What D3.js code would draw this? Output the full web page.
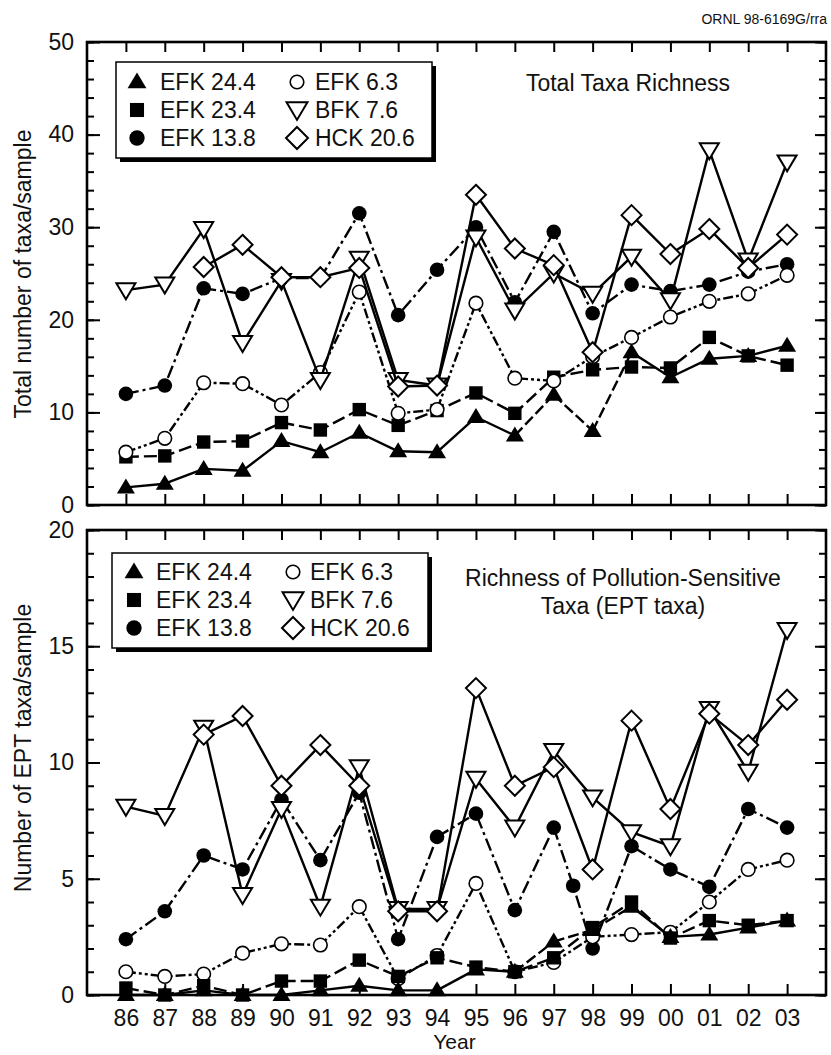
<!DOCTYPE html>
<html><head><meta charset="utf-8">
<script src="https://cdn.jsdelivr.net/npm/d3@7"></script>
<style>body{margin:0;background:#fff}svg{display:block}</style>
</head><body>
<svg id="c" width="831" height="1055"></svg>
<script>
// ---------- DATA ----------
const years = [86,87,88,89,90,91,92,93,94,95,96,97,98,99,100,101,102,103];
const yearLabels = ["86","87","88","89","90","91","92","93","94","95","96","97","98","99","00","01","02","03"];
const seriesNames = ["EFK 24.4","EFK 23.4","EFK 13.8","EFK 6.3","BFK 7.6","HCK 20.6"];

// Total taxa richness (top panel)
const totalEFK244 = [1.9,2.3,3.9,3.7,6.9,5.7,7.8,5.8,5.7,9.5,7.5,11.9,8.0,16.5,13.8,15.8,16.1,17.2];
const totalEFK234 = [5.2,5.3,6.8,6.9,8.9,8.1,10.3,8.6,10.2,12.1,9.9,13.8,14.6,14.9,14.8,18.1,16.1,15.1];
const totalEFK138 = [12.0,12.9,23.4,22.8,24.5,24.5,31.5,20.5,25.4,30.0,21.9,29.5,20.7,23.8,23.1,23.8,25.2,26.0];
const totalEFK63  = [5.7,7.2,13.2,13.1,10.8,14.3,23.0,9.9,10.3,21.8,13.7,13.4,16.0,18.1,20.3,22.0,22.8,24.8];
const totalBFK76  = [23.2,23.8,29.8,17.5,24.2,13.5,26.6,13.5,12.9,28.9,21.0,25.0,22.8,26.8,22.1,38.3,26.4,37.0];
const totalHCK206 = [null,null,25.7,28.1,24.6,24.6,25.6,12.8,12.9,33.5,27.7,25.9,16.5,31.3,27.1,29.8,25.6,29.2];

// EPT taxa richness (bottom panel)
const eptEFK244 = [0.0,0.0,0.2,0.0,0.0,0.2,0.4,0.2,0.2,1.1,1.0,2.3,2.8,3.8,2.5,2.6,2.9,3.2];
const eptEFK234 = [0.3,0.0,0.4,0.0,0.6,0.6,1.5,0.8,1.6,1.2,1.0,1.6,2.9,4.0,2.45,3.2,3.0,3.2];
const eptEFK138 = [2.4,3.6,6.0,5.4,8.4,5.8,8.7,2.4,6.8,7.8,3.65,7.2,2.0,6.4,5.4,4.65,8.0,7.2];
const eptEFK138ExtraYear  = [97.5];
const eptEFK138ExtraValue = [4.7];
const eptEFK63  = [1.0,0.8,0.9,1.8,2.2,2.15,3.8,0.7,1.7,4.8,1.0,1.4,2.5,2.6,2.7,4.0,5.4,5.8];
const eptBFK76  = [8.1,7.7,11.5,4.3,8.0,3.8,9.8,3.7,3.7,9.3,7.2,10.5,8.5,7.0,6.4,12.3,9.6,15.7];
const eptHCK206 = [null,null,11.2,12.0,9.0,10.75,9.0,3.6,3.6,13.2,9.0,9.8,5.4,11.8,8.0,12.1,10.75,12.7];

// segments of EFK 24.4 drawn dashed (start year of segment)
const efk244DashedFrom = [96,97,98];

// ---------- LAYOUT ----------
const FONT = "'Liberation Sans', Arial, Helvetica, sans-serif";
const X0 = 87, X1 = 826;
const svg = d3.select("#c");
svg.append("rect").attr("width",831).attr("height",1055).attr("fill","#fff");

const x = d3.scaleLinear().domain([85,104]).range([X0,X1]);

const styles = {
  "EFK 24.4": {marker:"tri",   dash:null},
  "EFK 23.4": {marker:"sq",    dash:"13,5"},
  "EFK 13.8": {marker:"dot",   dash:"13,4,3,4"},
  "EFK 6.3":  {marker:"circ",  dash:"10,3,3,3,3,3"},
  "BFK 7.6":  {marker:"dtri",  dash:null},
  "HCK 20.6": {marker:"dia",   dash:null}
};

function marker(g, type, cx, cy, s) {
  s = s || 1;
  if (type === "dot") {
    g.append("circle").attr("cx",cx).attr("cy",cy).attr("r",7.3*s).attr("fill","#000");
  } else if (type === "circ") {
    g.append("circle").attr("cx",cx).attr("cy",cy).attr("r",6.8*s).attr("fill","#fff").attr("stroke","#000").attr("stroke-width",1.6);
  } else if (type === "sq") {
    const h = 6.7*s;
    g.append("rect").attr("x",cx-h).attr("y",cy-h).attr("width",2*h).attr("height",2*h).attr("fill","#000");
  } else if (type === "tri") {
    g.append("path").attr("d",`M${cx},${cy-9*s}L${cx+9*s},${cy+6*s}L${cx-9*s},${cy+6*s}Z`).attr("fill","#000");
  } else if (type === "dtri") {
    g.append("path").attr("d",`M${cx-9.5*s},${cy-7*s}L${cx+9.5*s},${cy-7*s}L${cx},${cy+9*s}Z`)
      .attr("fill","#fff").attr("stroke","#000").attr("stroke-width",2).attr("stroke-linejoin","miter");
  } else if (type === "dia") {
    const h = 10*s;
    g.append("path").attr("d",`M${cx},${cy-h}L${cx+h},${cy}L${cx},${cy+h}L${cx-h},${cy}Z`)
      .attr("fill","#fff").attr("stroke","#000").attr("stroke-width",2);
  }
}

function panel(cfg) {
  const y = d3.scaleLinear().domain(cfg.domain).range([cfg.y1, cfg.y0]);
  const g = svg.append("g");

  const styleAxis = sel => {
    sel.select(".domain").remove();
    sel.selectAll(".tick line").attr("stroke","#000").attr("stroke-width",2);
    sel.selectAll("text").attr("font-family",FONT).attr("font-size",23).attr("fill","#111");
  };
  g.append("g").attr("transform",`translate(${X0},0)`)
    .call(d3.axisLeft(y).tickValues(d3.range(cfg.domain[0],cfg.domain[1]+0.001,cfg.minor)).tickSize(-7).tickFormat("")).call(styleAxis);
  g.append("g").attr("transform",`translate(${X0},0)`)
    .call(d3.axisLeft(y).tickValues(d3.range(cfg.domain[0],cfg.domain[1]+0.001,cfg.major)).tickSize(-13).tickPadding(13).tickFormat(d3.format("d"))).call(styleAxis);
  g.append("g").attr("transform",`translate(${X1},0)`)
    .call(d3.axisRight(y).tickValues(d3.range(cfg.domain[0],cfg.domain[1]+0.001,cfg.minor)).tickSize(-7).tickFormat("")).call(styleAxis);
  g.append("g").attr("transform",`translate(${X1},0)`)
    .call(d3.axisRight(y).tickValues(d3.range(cfg.domain[0],cfg.domain[1]+0.001,cfg.major)).tickSize(-11).tickFormat("")).call(styleAxis);
  g.append("g").attr("transform",`translate(0,${cfg.y0})`)
    .call(d3.axisTop(x).tickValues(years).tickSize(-10).tickFormat("")).call(styleAxis);
  g.append("g").attr("transform",`translate(0,${cfg.y1})`)
    .call(d3.axisBottom(x).tickValues(years).tickSize(-11).tickPadding(15)
      .tickFormat(cfg.labels ? ((d,i)=>yearLabels[i]) : "")).call(styleAxis);

  const plot = g.append("g");
  cfg.order.forEach(name => {
    const st = styles[name];
    let pts = years.map((yr,i)=>({yr, v: cfg.data[name][i]}));
    if (cfg.extra && cfg.extra[name]) {
      cfg.extra[name].years.forEach((yr,i)=>pts.push({yr, v: cfg.extra[name].values[i]}));
      pts.sort((a,b)=>a.yr-b.yr);
    }
    const sg = plot.append("g");
    const line = d3.line().defined(d=>d.v!=null).x(d=>x(d.yr)).y(d=>y(d.v));
    if (name === "EFK 24.4") {
      for (let i=0;i<pts.length-1;i++) {
        if (pts[i].v==null || pts[i+1].v==null) continue;
        sg.append("path").attr("d",line([pts[i],pts[i+1]])).attr("fill","none")
          .attr("stroke","#000").attr("stroke-width",2.4)
          .attr("stroke-dasharray", efk244DashedFrom.includes(pts[i].yr) ? "11,4" : null);
      }
    } else {
      sg.append("path").attr("d",line(pts)).attr("fill","none").attr("stroke","#000")
        .attr("stroke-width",2.4).attr("stroke-dasharray",st.dash);
    }
    pts.filter(d=>d.v!=null).forEach(d=>marker(sg, st.marker, x(d.yr), y(d.v)));
  });

  g.append("rect").attr("x",X0).attr("y",cfg.y0).attr("width",X1-X0).attr("height",cfg.y1-cfg.y0)
    .attr("fill","none").attr("stroke","#000").attr("stroke-width",2.6);

  const L = cfg.legend;
  g.append("rect").attr("x",L.x+4).attr("y",L.y+4).attr("width",L.w).attr("height",L.h).attr("fill","#000");
  g.append("rect").attr("x",L.x).attr("y",L.y).attr("width",L.w).attr("height",L.h).attr("fill","#fff").attr("stroke","#000").attr("stroke-width",1.5);
  seriesNames.forEach((name,i)=>{
    const col = Math.floor(i/3), row = i%3;
    const cy = L.rows[row];
    const sx = L.symX[col], tx = L.textX[col];
    const m = styles[name].marker;
    const sc = (m==="dtri"||m==="dia") ? 1.1 : (m==="circ" ? 1.0 : 1.05);
    marker(g, m, sx, cy, sc);
    g.append("text").attr("x",tx).attr("y",cy+8.3).text(name)
      .attr("font-family",FONT).attr("font-size",23).attr("fill","#111");
  });

  cfg.title.forEach((t,i)=>{
    g.append("text").attr("x",cfg.titleX).attr("y",cfg.titleY + i*28).attr("text-anchor","middle").text(t)
      .attr("font-family",FONT).attr("font-size",23).attr("fill","#111");
  });

  g.append("text").attr("transform",`translate(31,${cfg.ylabelY}) rotate(-90)`).attr("text-anchor","middle")
    .text(cfg.ylabel).attr("font-family",FONT).attr("font-size",23).attr("fill","#111");
}

panel({
  y0: 42, y1: 505, domain: [0,50], major: 10, minor: 2, labels: false,
  data: {"EFK 24.4":totalEFK244,"EFK 23.4":totalEFK234,"EFK 13.8":totalEFK138,"EFK 6.3":totalEFK63,"BFK 7.6":totalBFK76,"HCK 20.6":totalHCK206},
  order: ["EFK 13.8","EFK 24.4","EFK 23.4","EFK 6.3","BFK 7.6","HCK 20.6"],
  legend: {x:116, y:62, w:316, h:96, rows:[82,110,138], symX:[137,297], textX:[160,315]},
  title: ["Total Taxa Richness"], titleX: 628, titleY: 91,
  ylabel: "Total number of taxa/sample", ylabelY: 274
});

panel({
  y0: 530, y1: 995, domain: [0,20], major: 5, minor: 1, labels: true,
  data: {"EFK 24.4":eptEFK244,"EFK 23.4":eptEFK234,"EFK 13.8":eptEFK138,"EFK 6.3":eptEFK63,"BFK 7.6":eptBFK76,"HCK 20.6":eptHCK206},
  extra: {"EFK 13.8": {years: eptEFK138ExtraYear, values: eptEFK138ExtraValue}},
  order: ["EFK 13.8","EFK 6.3","EFK 24.4","EFK 23.4","BFK 7.6","HCK 20.6"],
  legend: {x:112, y:553, w:316, h:95, rows:[572,600,628], symX:[134,293], textX:[156,310]},
  title: ["Richness of Pollution-Sensitive","Taxa (EPT taxa)"], titleX: 623, titleY: 586,
  ylabel: "Number of EPT taxa/sample", ylabelY: 748
});

svg.append("text").attr("x",(X0+X1)/2 - 2).attr("y",1049).attr("text-anchor","middle").text("Year")
  .attr("font-family",FONT).attr("font-size",21).attr("fill","#111");
svg.append("text").attr("x",827).attr("y",24).attr("text-anchor","end").text("ORNL 98-6169G/rra")
  .attr("font-family",FONT).attr("font-size",14).attr("fill","#111");
</script>
</body></html>
